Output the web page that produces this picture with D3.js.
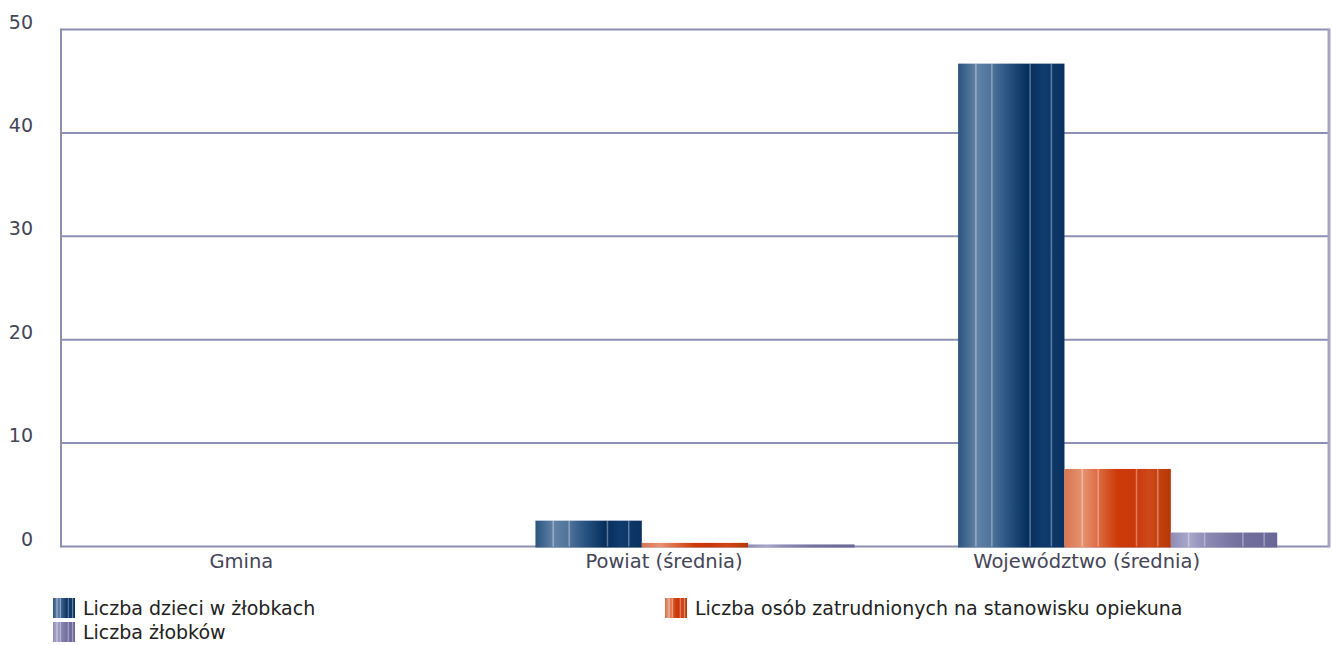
<!DOCTYPE html>
<html>
<head>
<meta charset="utf-8">
<script src="https://cdn.jsdelivr.net/npm/d3@7.9.0/dist/d3.min.js"></script>
<style>
  body { margin: 0; background: #fff; }
  svg { display: block; font-family: 'DejaVu Sans', sans-serif; }
</style>
</head>
<body>
<svg id="chart" width="1332" height="645"></svg>
<script>
const categories = ['Gmina', 'Powiat (średnia)', 'Województwo (średnia)'];
const seriesNames = [
  'Liczba dzieci w żłobkach',
  'Liczba osób zatrudnionych na stanowisku opiekuna',
  'Liczba żłobków'
];
const dzieci = [0, 2.5, 46.7];
const opiekunowie = [0, 0.35, 7.5];
const zlobki = [0, 0.2, 1.35];
const yTicks = [0, 10, 20, 30, 40, 50];

const seriesValues = [dzieci, opiekunowie, zlobki];

// gradient stops per series (offset, colour)
const gradients = [
  [[0, '#2a5480'], [0.17, '#6382a5'], [0.32, '#4e729a'], [0.45, '#2c5684'], [0.66, '#062e5c'], [0.8, '#0f3b6e'], [1, '#0a3260']],
  [[0, '#d8754f'], [0.17, '#e69272'], [0.32, '#dd6a40'], [0.5, '#cc3a08'], [0.66, '#c9380a'], [0.8, '#d0481a'], [1, '#b53706']],
  [[0, '#8e8cb6'], [0.17, '#aaa8cb'], [0.32, '#8f8cb8'], [0.6, '#76729f'], [0.8, '#6f6b9a'], [1, '#6a6696']]
];
const stripePos = [0.16, 0.31, 0.67, 0.87];

const svg = d3.select('#chart');
const plot = { left: 61, right: 1329, top: 29.5, bottom: 546.5 };
const lineColor = '#8e90b2';
const textColor = '#454558';

const defs = svg.append('defs');
gradients.forEach((stops, i) => {
  const g = defs.append('linearGradient')
    .attr('id', 'grad' + i)
    .attr('x1', '0%').attr('x2', '100%').attr('y1', '0%').attr('y2', '0%');
  stops.forEach(([o, c]) => g.append('stop').attr('offset', o).attr('stop-color', c));
});

const x0 = d3.scaleBand()
  .domain(categories)
  .range([plot.left, plot.right])
  .paddingInner(0.245)
  .paddingOuter(0.1225);

const x1 = d3.scaleBand()
  .domain(d3.range(seriesNames.length))
  .range([0, x0.bandwidth()]);

const y = d3.scaleLinear().domain([0, 50]).range([plot.bottom, plot.top]);

// gridlines
svg.append('g')
  .selectAll('line')
  .data(yTicks)
  .join('line')
  .attr('x1', plot.left).attr('x2', plot.right)
  .attr('y1', (d) => y(d)).attr('y2', (d) => y(d))
  .attr('stroke', lineColor)
  .attr('stroke-width', 2);

// frame sides
svg.append('line')
  .attr('x1', plot.left).attr('x2', plot.left)
  .attr('y1', plot.top - 1).attr('y2', plot.bottom + 1)
  .attr('stroke', lineColor).attr('stroke-width', 2);
svg.append('line')
  .attr('x1', plot.right).attr('x2', plot.right)
  .attr('y1', plot.top - 1).attr('y2', plot.bottom + 1)
  .attr('stroke', '#a4a6c2').attr('stroke-width', 3);

// y labels
svg.append('g')
  .selectAll('text')
  .data(yTicks)
  .join('text')
  .attr('x', 33)
  .attr('y', (d) => y(d) - 1)
  .attr('text-anchor', 'end')
  .attr('font-size', 19)
  .attr('fill', textColor)
  .text((d) => d);

// bars
const bars = [];
categories.forEach((c, ci) => {
  seriesValues.forEach((vals, si) => {
    bars.push({ cat: c, s: si, v: vals[ci] });
  });
});

const barG = svg.append('g');
const groups = barG.selectAll('g')
  .data(bars.filter((d) => d.v > 0))
  .join('g')
  .attr('transform', (d) => `translate(${x0(d.cat) + x1(d.s)},0)`);

// bars sit over the baseline, so extend them to its lower edge
groups.append('rect')
  .attr('x', 0)
  .attr('width', x1.bandwidth())
  .attr('y', (d) => y(d.v))
  .attr('height', (d) => y(0) - y(d.v) + 1)
  .attr('fill', (d) => `url(#grad${d.s})`);

groups.each(function (d) {
  const h = y(0) - y(d.v);
  if (h < 4) return;
  d3.select(this).selectAll('rect.stripe')
    .data(stripePos)
    .join('rect')
    .attr('class', 'stripe')
    .attr('x', (p) => p * x1.bandwidth())
    .attr('width', 1.5)
    .attr('y', y(d.v))
    .attr('height', h)
    .attr('fill', '#ffffff')
    .attr('opacity', 0.35);
});

// category labels
svg.append('g')
  .selectAll('text')
  .data(categories)
  .join('text')
  .attr('x', (d) => x0(d) + x0.bandwidth() / 2 - 31)
  .attr('y', 568)
  .attr('text-anchor', 'middle')
  .attr('font-size', 19.5)
  .attr('fill', textColor)
  .text((d) => d);

// legend
const legendPos = [[53, 598], [665, 598], [53, 622]];
const legend = svg.append('g')
  .selectAll('g')
  .data(seriesNames)
  .join('g')
  .attr('transform', (d, i) => `translate(${legendPos[i][0]},${legendPos[i][1]})`);

legend.append('rect')
  .attr('width', 22).attr('height', 20)
  .attr('fill', (d, i) => `url(#grad${i})`);
legend.each(function () {
  d3.select(this).selectAll('rect.stripe')
    .data(stripePos)
    .join('rect')
    .attr('class', 'stripe')
    .attr('x', (p) => p * 22)
    .attr('width', 1)
    .attr('height', 20)
    .attr('fill', '#fff')
    .attr('opacity', 0.45);
});
legend.append('text')
  .attr('x', 30)
  .attr('y', 17)
  .attr('font-size', 19)
  .attr('fill', '#222')
  .text((d) => d);
</script>
</body>
</html>
